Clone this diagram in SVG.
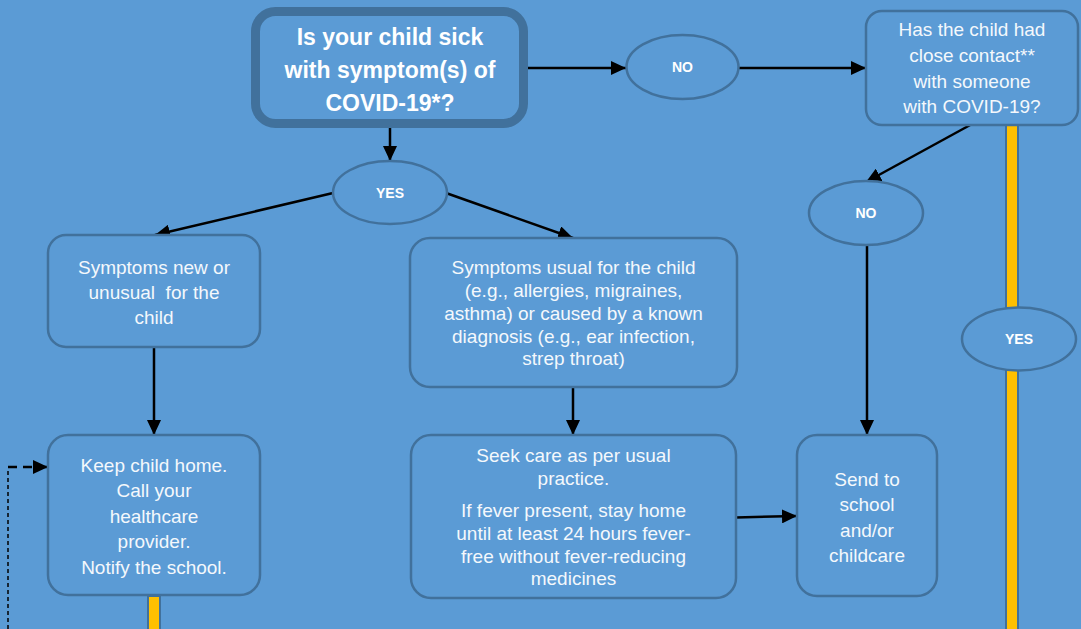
<svg xmlns="http://www.w3.org/2000/svg" width="1081" height="629" viewBox="0 0 1081 629">
  <defs>
    <marker id="arrow" markerUnits="userSpaceOnUse" markerWidth="16" markerHeight="14" refX="15" refY="7" orient="auto">
      <path d="M0,0 L15,7 L0,14 Z" fill="#000"/>
    </marker>
    <marker id="arrow-small" markerUnits="userSpaceOnUse" markerWidth="16" markerHeight="14" refX="15" refY="7" orient="auto">
      <path d="M0,0 L15,7 L0,14 Z" fill="#000"/>
    </marker>
  </defs>
  <style>
    .box { fill: #5B9BD5; stroke: #41719C; stroke-width: 2.5; }
    .oval { fill: #5B9BD5; stroke: #41719C; stroke-width: 2.5; }
    .txt { font-family: "Liberation Sans", Arial, sans-serif; font-size: 19px; fill: #F4F8FC; text-anchor: middle; }
    .lbl { font-family: "Liberation Sans", Arial, sans-serif; font-size: 14px; font-weight: bold; fill: #FFFFFF; text-anchor: middle; }
    .title { font-family: "Liberation Sans", Arial, sans-serif; font-size: 23px; font-weight: bold; fill: #FFFFFF; text-anchor: middle; }
    .conn { fill: none; stroke: #000; stroke-width: 2.5; marker-end: url(#arrow); }
    .bar { fill: #FFC000; stroke: #41719C; stroke-width: 2; }
  </style>

  <!-- page background -->
  <rect x="0" y="0" width="1081" height="629" fill="#5B9BD5"/>

  <!-- connectors -->
  <g id="connectors">
    <!-- yellow "yes" tracks running off the page -->
    <rect class="bar" x="1006" y="124" width="12" height="510"/>
    <rect class="bar" x="148" y="596" width="12" height="40"/>

    <path class="conn" d="M528,68 L626,68"/>
    <path class="conn" d="M739,68 L866,68"/>
    <path class="conn" d="M390,128 L390,161"/>
    <path class="conn" d="M333,193 L155,235"/>
    <path class="conn" d="M446,193 L573,238"/>
    <path class="conn" d="M972,124 L866,182"/>
    <path class="conn" d="M867,245 L867,435"/>
    <path class="conn" d="M154,347 L154,435"/>
    <path class="conn" d="M573,387 L573,435"/>
    <path class="conn" d="M736,517.5 L797,516"/>

    <!-- dashed return path into the "keep home" box -->
    <path d="M8,629 L8,468" fill="none" stroke="#000" stroke-width="1.5" stroke-dasharray="4,3"/>
    <path d="M8,467 L48,467" fill="none" stroke="#000" stroke-width="2.5" stroke-dasharray="9,6" marker-end="url(#arrow-small)"/>
  </g>

  <!-- main question -->
  <g id="node-sick">
    <rect x="255.5" y="11.5" width="268" height="112" rx="20" fill="#5B9BD5" stroke="#41719C" stroke-width="9"/>
    <text class="title" x="390" y="45">Is your child sick</text>
    <text class="title" x="390" y="78">with symptom(s) of</text>
    <text class="title" x="390" y="111">COVID-19*?</text>
  </g>

  <g id="node-no-top">
    <ellipse class="oval" cx="682.5" cy="67" rx="56" ry="32"/>
    <text class="lbl" x="682.5" y="72">NO</text>
  </g>

  <g id="node-contact">
    <rect class="box" x="866" y="11" width="212" height="114" rx="16"/>
    <text class="txt" x="972" y="36">Has the child had</text>
    <text class="txt" x="972" y="62">close contact**</text>
    <text class="txt" x="972" y="88">with someone</text>
    <text class="txt" x="972" y="113">with COVID-19?</text>
  </g>

  <g id="node-yes-top">
    <ellipse class="oval" cx="390" cy="192.5" rx="57" ry="31.5"/>
    <text class="lbl" x="390" y="197.5">YES</text>
  </g>

  <g id="node-no-contact">
    <ellipse class="oval" cx="866" cy="213" rx="57" ry="32"/>
    <text class="lbl" x="866" y="218">NO</text>
  </g>

  <g id="node-yes-contact">
    <ellipse class="oval" cx="1019" cy="339" rx="57" ry="31.5"/>
    <text class="lbl" x="1019" y="344">YES</text>
  </g>

  <g id="node-new-symptoms">
    <rect class="box" x="48" y="235" width="212" height="112" rx="18"/>
    <text class="txt" x="154" y="274">Symptoms new or</text>
    <text class="txt" x="154" y="299" xml:space="preserve">unusual  for the</text>
    <text class="txt" x="154" y="324">child</text>
  </g>

  <g id="node-usual-symptoms">
    <rect class="box" x="410" y="238" width="327" height="149" rx="20"/>
    <text class="txt" x="573.5" y="274">Symptoms usual for the child</text>
    <text class="txt" x="573.5" y="297">(e.g., allergies, migraines,</text>
    <text class="txt" x="573.5" y="320">asthma) or caused by a known</text>
    <text class="txt" x="573.5" y="343">diagnosis (e.g., ear infection,</text>
    <text class="txt" x="573.5" y="365">strep throat)</text>
  </g>

  <g id="node-keep-home">
    <rect class="box" x="48" y="435" width="212" height="160" rx="20"/>
    <text class="txt" x="154" y="472">Keep child home.</text>
    <text class="txt" x="154" y="497">Call your</text>
    <text class="txt" x="154" y="523">healthcare</text>
    <text class="txt" x="154" y="548">provider.</text>
    <text class="txt" x="154" y="574">Notify the school.</text>
  </g>

  <g id="node-seek-care">
    <rect class="box" x="411" y="435" width="325" height="163" rx="20"/>
    <text class="txt" x="573.5" y="462">Seek care as per usual</text>
    <text class="txt" x="573.5" y="485">practice.</text>
    <text class="txt" x="573.5" y="517">If fever present, stay home</text>
    <text class="txt" x="573.5" y="540">until at least 24 hours fever-</text>
    <text class="txt" x="573.5" y="563">free without fever-reducing</text>
    <text class="txt" x="573.5" y="585">medicines</text>
  </g>

  <g id="node-send-school">
    <rect class="box" x="797" y="435" width="140" height="161" rx="20"/>
    <text class="txt" x="867" y="486">Send to</text>
    <text class="txt" x="867" y="511">school</text>
    <text class="txt" x="867" y="537">and/or</text>
    <text class="txt" x="867" y="562">childcare</text>
  </g>
</svg>
